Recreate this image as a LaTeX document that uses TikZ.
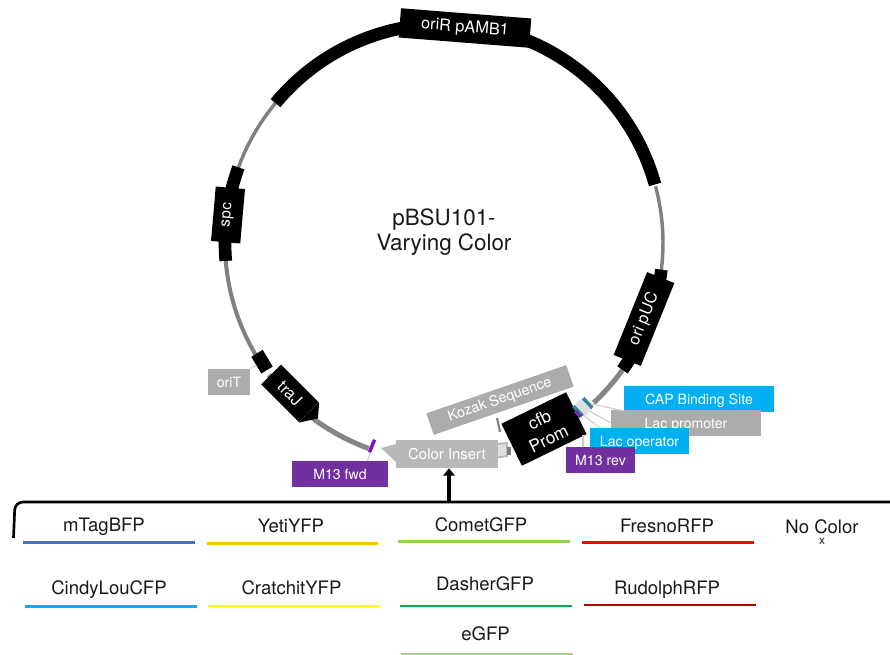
\documentclass[tikz,border=0pt]{standalone}
\usepackage{fontspec}
\setmainfont{TeX Gyre Heros}
\usetikzlibrary{arrows.meta}

\tikzset{
    ring/.style={draw=gray, line width=2.6pt},
    ringfat/.style={draw=gray!95, line width=3.8pt},
    part/.style={draw=black, line width=9.5pt},
    boxpart/.style={fill=black, text=white, inner sep=0pt, font=\fontsize{12.2}{14}\selectfont, align=center},
    tag/.style={text=white, inner sep=0pt, text height=7.6pt, text depth=0pt, font=\fontsize{10.6}{12}\selectfont},
    leader/.style={draw=gray!40, line width=0.8pt},
    bar/.style={line width=2.1pt},
    fp/.style={font=\fontsize{13.9}{16}\selectfont, text height=10pt, text depth=0pt, text=black!90},
    sitemark/.style={inner sep=0pt, minimum width=10, minimum height=2.6},
}

\definecolor{tagpurple}{HTML}{7030A0}
\definecolor{markpurple}{HTML}{7B10C8}
\definecolor{tagcyan}{HTML}{00B0F0}
\definecolor{taggray}{HTML}{AEABAB}
\definecolor{insertgray}{HTML}{B8B8B8}
\definecolor{markteal}{HTML}{31859B}

\begin{document}
\begin{tikzpicture}[x=0.75pt, y=0.75pt]
    \useasboundingbox (0,-655) rectangle (890,0);

    \coordinate (ctr) at (444,-243);

    % backbone
    \draw[ring] (ctr) ++(160:219) arc[start angle=160, end angle=140, radius=219];
    \draw[ring] (ctr) ++(15:219) arc[start angle=15, end angle=-8, radius=219];
    \draw[ring, line width=3pt] (ctr) ++(184:219) arc[start angle=184, end angle=213, radius=219];
    \draw[ringfat] (ctr) ++(217:219) arc[start angle=217, end angle=250, radius=218];
    \draw[ringfat] (ctr) ++(-35:219) arc[start angle=-35, end angle=-47, radius=217];

    % thick parts
    \draw[part] (ctr) ++(140.3:219) arc[start angle=140.3, end angle=15.5, radius=219];
    \draw[part] (ctr) ++(159.8:219) arc[start angle=159.8, end angle=184.7, radius=219];
    \draw[part] (ctr) ++(-7:219) arc[start angle=-7, end angle=-35.4, radius=219];

    \node[boxpart, minimum width=98, minimum height=22, rotate=-4.5] (oriR) at (465,-28) {oriR pAMB1};
    \node[boxpart, minimum width=41, minimum height=22, rotate=85, font=\fontsize{11.5}{13}\selectfont] (spc) at (228,-215) {spc};
    \node[boxpart, minimum width=67, minimum height=22, rotate=68] (oriUC) at (644,-319) {ori pUC};

    % traJ with its point
    \node[boxpart, minimum width=40, minimum height=21, rotate=-45] (traJ) at (290,-393.4) {traJ};
    \coordinate (trajtip) at (318,-418.5);
    \fill (traJ.south east) -- (trajtip) -- (traJ.north east) -- cycle;

    % insert and promoter
    \coordinate (inserttip) at (381,-448);
    \filldraw[fill=gray!25, draw=insertgray, line width=1.4pt] (497,-444) -- (507,-443) -- (507,-456) -- (497,-457.5) -- cycle;
    \fill[gray] (507,-447) rectangle (511,-455);
    \node[fill=insertgray, text=white, minimum width=76, minimum height=21, inner sep=0pt, font=\fontsize{11.2}{13}\selectfont] (insert) at (447,-454) {Color Insert};
    \fill[insertgray] (inserttip) -- (396,-444) -- (396,-462) -- cycle;
    \node[boxpart, minimum width=54, minimum height=35, rotate=26, font=\fontsize{13}{15}\selectfont] (cfb) at (544,-429) {cfb\\[1pt]Prom};

    \node[fill=taggray, text=white, minimum width=111, minimum height=17, inner sep=0pt, rotate=19, font=\fontsize{10.8}{13}\selectfont] (kozak) at (500,-400) {Kozak Sequence};
    \coordinate (kozakfoot) at (500,-432);
    \coordinate (kozakhead) at (497,-418);
    \draw[gray, line width=1.6pt] (kozakhead) -- (kozakfoot);

    % labels on the right
    \node[fill=tagcyan, tag, minimum width=112.5, minimum height=19.5] (cap) at (699,-399) {CAP Binding Site};
    \node[fill=taggray, tag, minimum width=112.5, minimum height=19.5] (lacp) at (686,-423) {Lac promoter};
    \node[fill=tagcyan, tag, minimum width=74, minimum height=19.5] (laco) at (639.5,-441) {Lac operator};
    \node[fill=tagpurple, tag, minimum width=52, minimum height=19.5] (m13r) at (600.5,-460.5) {M13 rev};
    \node[fill=tagpurple, tag, minimum width=72, minimum height=19.5] (m13f) at (340,-474) {M13 fwd};
    \node[fill=taggray, tag, minimum width=31.5, minimum height=19.5] (oriT) at (229,-382) {oriT};

    % markers on the backbone
    \coordinate (fwdtop) at (375,-438);
    \coordinate (fwdfoot) at (367.5,-461);
    \coordinate (revtop) at (583,-435);
    \coordinate (lacotop) at (600,-428);
    \coordinate (capend) at (624,-411);
    \coordinate (lacpend) at (611,-423);

    \node[sitemark, fill=gray!25, minimum width=11, minimum height=8, rotate=-47] (promark) at (583,-407.5) {};
    \node[sitemark, fill=markteal, rotate=-47] (capmark) at (587.7,-403) {};
    \node[sitemark, fill=markteal, rotate=-47] (opmark) at (578,-411) {};
    \node[sitemark, fill=tagpurple, minimum width=6, rotate=-47] (revmark) at (578,-414) {};
    \draw[leader] (fwdtop) -- (fwdfoot);
    \node[sitemark, fill=markpurple, rotate=68] (fwdmark) at (372,-446) {};
    \node[sitemark, fill=black, minimum width=14.6, minimum height=10, rotate=-59] (oriTmark) at (262,-361.7) {};

    \draw[leader] (capmark) -- (capend);
    \draw[leader] (promark) -- (lacpend);
    \draw[leader] (opmark) -- (lacotop);
    \draw[leader] (revtop) -- (revtop |- m13r.north);
    \draw[leader] (oriTmark) -- (oriT.north east);

    \node[font=\fontsize{16.8}{18.75}\selectfont, text=black!90, align=center] (title) at (444,-232.5) {pBSU101-\\Varying Color};

    % the bracket with the arrow
    \coordinate (brktend) at (13.5,-538);
    \coordinate (brktedge) at (890,-502);
    \coordinate (arrowfoot) at (449,-502);
    \draw[line width=2pt, rounded corners=6pt] (brktend) -- (15,-502) -- (brktedge);
    \draw[-{Triangle[length=5.5pt, width=8.5pt]}, line width=2.6pt] (arrowfoot) -- (insert.south -| arrowfoot);

    % colour options
    \node[fp] (mtag) at (104,-525) {mTagBFP};
    \node[fp] (yeti) at (291,-526) {YetiYFP};
    \node[fp] (comet) at (481,-525) {CometGFP};
    \node[fp] (fresno) at (667,-526) {FresnoRFP};
    \node[fp] (nocol) at (822,-527) {No Color};
    \node[font=\fontsize{9}{10}\selectfont, text=black!90] (x) at (822,-541.5) {x};
    \node[fp] (cindy) at (109,-587.5) {CindyLouCFP};
    \node[fp] (cratch) at (291.5,-587.5) {CratchitYFP};
    \node[fp] (dasher) at (485,-584) {DasherGFP};
    \node[fp] (rudolph) at (667,-588) {RudolphRFP};
    \node[fp] (egfp) at (485.5,-634) {eGFP};

    \draw[bar, color={rgb,255:red,68;green,114;blue,196}] (22.7,-542.3) -- (195,-542.3);
    \draw[bar, color={rgb,255:red,255;green,192;blue,0}] (206.7,-543.3) -- (378,-543.3);
    \draw[bar, color={rgb,255:red,146;green,208;blue,80}] (398,-541.7) -- (570,-541.7);
    \draw[bar, color={rgb,255:red,255;green,0;blue,0}] (582,-542.7) -- (753.7,-542.7);
    \draw[bar, color=tagcyan] (25,-606.7) -- (196.7,-606.7);
    \draw[bar, color={rgb,255:red,255;green,255;blue,0}] (208,-606) -- (380,-606);
    \draw[bar, color={rgb,255:red,0;green,176;blue,80}] (400,-606) -- (572,-606);
    \draw[bar, color={rgb,255:red,192;green,0;blue,0}] (584,-605) -- (755.7,-605);
    \draw[bar, color={rgb,255:red,169;green,209;blue,142}] (401,-654.8) -- (573,-654.8);
\end{tikzpicture}
\end{document}
